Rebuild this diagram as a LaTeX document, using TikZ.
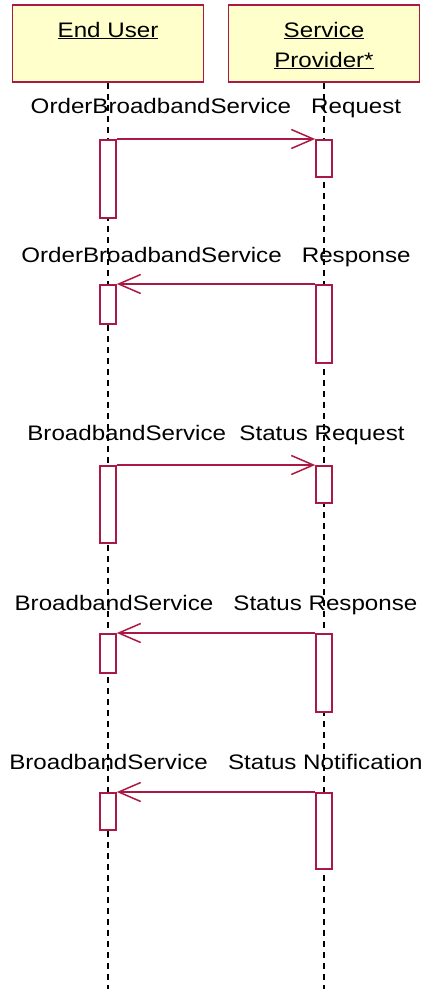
\documentclass[tikz,border=0pt]{standalone}
\usepackage{fontspec}
\setmainfont{Liberation Sans}[FakeStretch=1.15]
\usetikzlibrary{arrows.meta,positioning}
\definecolor{umlred}{RGB}{170,25,70}
\definecolor{umlyellow}{RGB}{255,255,204}

\begin{document}
\begin{tikzpicture}[x=1pt,y=-1pt,
    headbox/.style={draw=umlred,fill=umlyellow,line width=1.6pt,minimum width=191pt,minimum height=77pt,inner sep=0pt},
    headtext/.style={font=\fontsize{21}{26}\selectfont,inner sep=0pt,anchor=base},
    lifeline/.style={black,line width=1.4pt,dash pattern=on 6pt off 5pt},
    act/.style={draw=umlred,fill=white,line width=1.6pt,minimum width=16pt,inner sep=0pt,anchor=north},
    msg/.style={umlred,line width=1.5pt,-{Straight Barb[length=22pt,width=19pt]}},
    msgtext/.style={font=\fontsize{21}{24}\selectfont,inner sep=0pt}]

\def\UX{108}
\def\PX{324}
\def\MX{216}
	\useasboundingbox (0,0) rectangle (425,989);

	\node[headbox] (user) at (\UX,43.5) {};
	\node[headbox] (prov) at (\PX,43.5) {};
	\node[headtext] (usertxt) at (\UX,37) {\underline{End User}};
	\node[headtext] (provtxt) at (\PX,37) {\underline{Service}};
	\node[headtext] (provtxtb) at (\PX,67) {\underline{Provider*}};

	\coordinate (userend) at (\UX,989);
	\coordinate (provend) at (\PX,989);
	\draw[lifeline] (user) -- (userend);
	\draw[lifeline] (prov) -- (provend);

	\node[act,minimum height=78pt] (u1) at (\UX,139) {};
	\node[act,minimum height=37pt] (p1) at (\PX,139) {};
	\node[act,minimum height=39pt] (u2) at (\UX,284) {};
	\node[act,minimum height=78pt] (p2) at (\PX,284) {};
	\node[act,minimum height=77pt] (u3) at (\UX,465) {};
	\node[act,minimum height=37pt] (p3) at (\PX,465) {};
	\node[act,minimum height=39pt] (u4) at (\UX,633) {};
	\node[act,minimum height=78pt] (p4) at (\PX,633) {};
	\node[act,minimum height=37pt] (u5) at (\UX,792) {};
	\node[act,minimum height=76pt] (p5) at (\PX,792) {};

	\node[msgtext] (m1) at (\MX,108) {OrderBroadbandService~~~Request};
	\node[msgtext] (m2) at (\MX,257) {OrderBroadbandService~~~Response};
	\node[msgtext] (m3) at (\MX,435) {BroadbandService~~Status Request};
	\node[msgtext] (m4) at (\MX,605) {BroadbandService~~~Status Response};
	\node[msgtext] (m5) at (\MX,762) {BroadbandService~~~Status Notification};

	\draw[msg] (u1.north east) -- (p1.north west);
	\draw[msg] (p2.north west) -- (u2.north east);
	\draw[msg] (u3.north east) -- (p3.north west);
	\draw[msg] (p4.north west) -- (u4.north east);
	\draw[msg] (p5.north west) -- (u5.north east);

\end{tikzpicture}
\end{document}
